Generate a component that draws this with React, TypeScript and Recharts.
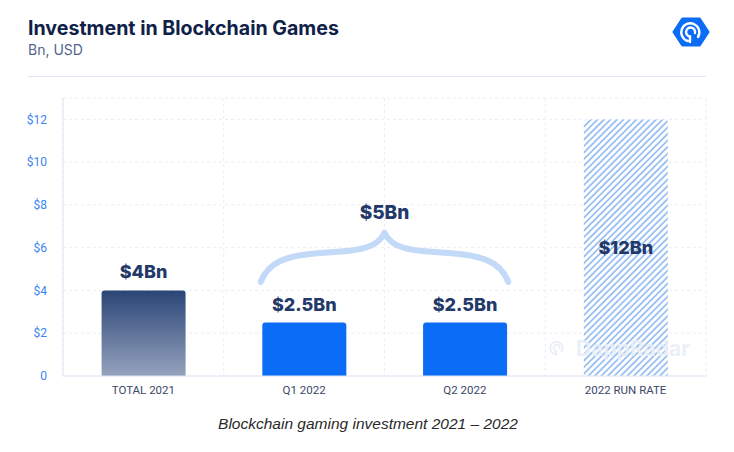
import React from "react";
import {
  BarChart,
  Bar,
  Cell,
  XAxis,
  YAxis,
  CartesianGrid,
  LabelList,
  ReferenceArea,
} from "recharts";

const categories = ["TOTAL 2021", "Q1 2022", "Q2 2022", "2022 RUN RATE"];
const investment = [4, 2.5, 2.5, 12];
const valueLabels = ["$4Bn", "$2.5Bn", "$2.5Bn", "$12Bn"];
const yTicks = [0, 2, 4, 6, 8, 10, 12];
const braceLabel = `$${investment[1] + investment[2]}Bn`;
const braceFrom = categories[1];
const braceTo = categories[2];

const data = categories.map((name, i) => ({
  name,
  value: investment[i],
  label: valueLabels[i],
}));

const NAVY = "#22396a";
const BLUE = "#0b6cf6";

const barFills = ["url(#grad2021)", BLUE, BLUE, "url(#hatchRun)"];

function BarValueLabel(props: any) {
  const { x, y, width, height, index } = props;
  const inside = index === categories.length - 1;
  const cx = x + width / 2;
  const cy = inside ? y + height / 2 + 6 : y - 12;
  return (
    <text
      x={cx}
      y={cy}
      textAnchor="middle"
      fill={NAVY}
      fontSize={18}
      fontWeight={800}
      fontFamily="Inter, 'Noto Sans', sans-serif"
    >
      {valueLabels[index]}
    </text>
  );
}

function Brace(props: any) {
  const { x, y, width, height } = props;
  const inset = width * 0.115;
  const xl = x + inset;
  const xr = x + width - inset;
  const cx = x + width / 2;
  const yt = y;
  const yb = y + height;
  const h = height;
  const ym = yt + 0.41 * h;
  const dx = cx - xl;
  const d = [
    `M ${xl} ${yb}`,
    `C ${xl + 0.06 * dx} ${yb - 0.4 * h}, ${xl + 0.2 * dx} ${ym + 0.05 * h}, ${xl + 0.48 * dx} ${ym}`,
    `C ${xl + 0.8 * dx} ${ym - 0.03 * h}, ${cx - 0.05 * dx} ${ym - 0.1 * h}, ${cx} ${yt}`,
    `C ${cx + 0.05 * dx} ${ym - 0.1 * h}, ${xr - 0.8 * dx} ${ym - 0.03 * h}, ${xr - 0.48 * dx} ${ym}`,
    `C ${xr - 0.2 * dx} ${ym + 0.05 * h}, ${xr - 0.06 * dx} ${yb - 0.4 * h}, ${xr} ${yb}`,
  ].join(" ");
  return (
    <g>
      <path d={d} fill="none" stroke="#c3d9f8" strokeWidth={6} strokeLinecap="round" strokeLinejoin="round" />
      <text
        x={cx}
        y={yt - 14}
        textAnchor="middle"
        fill={NAVY}
        fontSize={19}
        fontWeight={800}
        fontFamily="Inter, 'Noto Sans', sans-serif"
      >
        {braceLabel}
      </text>
    </g>
  );
}

function Logo({ cx, cy, r, color, ring }: { cx: number; cy: number; r: number; color: string; ring: string }) {
  const pts = [0, 60, 120, 180, 240, 300]
    .map((a) => {
      const rad = (a * Math.PI) / 180;
      return `${cx + r * Math.cos(rad)},${cy + r * 0.88 * Math.sin(rad)}`;
    })
    .join(" ");
  const s = r / 17;
  return (
    <g>
      <polygon points={pts} fill={color} stroke={color} strokeWidth={3 * s} strokeLinejoin="round" />
      <path
        d={`M ${cx - 3 * s} ${cy + 9 * s} A ${9 * s} ${9 * s} 0 1 1 ${cx + 7 * s} ${cy + 5 * s}`}
        fill="none"
        stroke={ring}
        strokeWidth={2.4 * s}
        strokeLinecap="round"
      />
      <path
        d={`M ${cx - 1 * s} ${cy + 4.5 * s} A ${4.5 * s} ${4.5 * s} 0 1 1 ${cx + 4 * s} ${cy + 1 * s}`}
        fill="none"
        stroke={ring}
        strokeWidth={2.4 * s}
        strokeLinecap="round"
      />
      <line
        x1={cx - 1 * s}
        y1={cy + 4.5 * s}
        x2={cx - 1 * s}
        y2={cy + 10 * s}
        stroke={ring}
        strokeWidth={2.4 * s}
        strokeLinecap="round"
      />
    </g>
  );
}

export default function App() {
  return (
    <div
      style={{
        position: "absolute",
        left: 0,
        top: 0,
        width: 734,
        height: 452,
        background: "#ffffff",
        overflow: "hidden",
      }}
    >
      <BarChart
        width={734}
        height={452}
        data={data}
        margin={{ top: 98, right: 28, bottom: 0, left: 0 }}
        barCategoryGap="24%"
      >
        <defs>
          <linearGradient id="grad2021" x1="0" y1="0" x2="0" y2="1">
            <stop offset="0%" stopColor="#2a4576" />
            <stop offset="100%" stopColor="#95a2bd" />
          </linearGradient>
          <pattern
            id="hatchRun"
            patternUnits="userSpaceOnUse"
            width={4.6}
            height={4.6}
            patternTransform="rotate(45)"
          >
            <rect width={4.6} height={4.6} fill="#ffffff" />
            <line x1={1} y1={0} x2={1} y2={4.6} stroke="#8cb8f2" strokeWidth={1.6} />
          </pattern>
        </defs>
        <CartesianGrid
          stroke="#e9eef8"
          strokeDasharray="3 3"
          verticalCoordinatesGenerator={({ offset }: any) =>
            Array.from(
              { length: categories.length + 1 },
              (_, i) => offset.left + (i * offset.width) / categories.length
            )
          }
        />
        <XAxis
          dataKey="name"
          height={76}
          tickSize={0}
          tickMargin={10}
          axisLine={{ stroke: "#dde5f2" }}
          tick={{ fontSize: 11.5, fill: "#3b4866", fontFamily: "Roboto, sans-serif" }}
        />
        <YAxis
          width={63}
          domain={[0, 13]}
          ticks={yTicks}
          tickSize={0}
          tickMargin={16}
          axisLine={{ stroke: "#dde5f2" }}
          tickFormatter={(v: number) => (v === 0 ? "0" : `$${v}`)}
          tick={{ fontSize: 12, fill: "#3a84f0", fontFamily: "Roboto, sans-serif" }}
        />
        <Bar dataKey="value" radius={[3, 3, 0, 0]} isAnimationActive={false}>
          {data.map((d, i) => (
            <Cell key={d.name} fill={barFills[i]} />
          ))}
          <LabelList dataKey="label" content={BarValueLabel} />
        </Bar>
        <ReferenceArea
          x1={braceFrom}
          x2={braceTo}
          y1={4.4}
          y2={6.7}
          ifOverflow="visible"
          shape={Brace}
        />
      </BarChart>
      <svg
        width={734}
        height={452}
        style={{ position: "absolute", left: 0, top: 0, pointerEvents: "none" }}
      >
        <text
          x={28}
          y={35}
          fill="#0f2148"
          fontSize={19.6}
          fontWeight={700}
          fontFamily="Inter, 'Noto Sans', sans-serif"
        >
          Investment in Blockchain Games
        </text>
        <text x={28} y={55} fill="#53668c" fontSize={14} fontFamily="Inter, 'Noto Sans', sans-serif">
          Bn, USD
        </text>
        <line x1={28} y1={76.5} x2={706} y2={76.5} stroke="#e0e8f6" strokeWidth={1} />
        <Logo cx={691} cy={32} r={17} color="#0b6cf6" ring="#ffffff" />
        <g opacity={0.9}>
          <Logo cx={557} cy={348} r={12} color="none" ring="#e6ecf6" />
          <text
            x={576}
            y={356}
            fill="#e9eef7"
            fontSize={21}
            fontWeight={700}
            fontFamily="Inter, 'Noto Sans', sans-serif"
          >
            DappRadar
          </text>
        </g>
        <text
          x={368}
          y={429}
          textAnchor="middle"
          fill="#2a2a2a"
          fontSize={15.5}
          fontStyle="italic"
          fontFamily="'Liberation Sans', Arial, sans-serif"
        >
          Blockchain gaming investment 2021 – 2022
        </text>
      </svg>
    </div>
  );
}
